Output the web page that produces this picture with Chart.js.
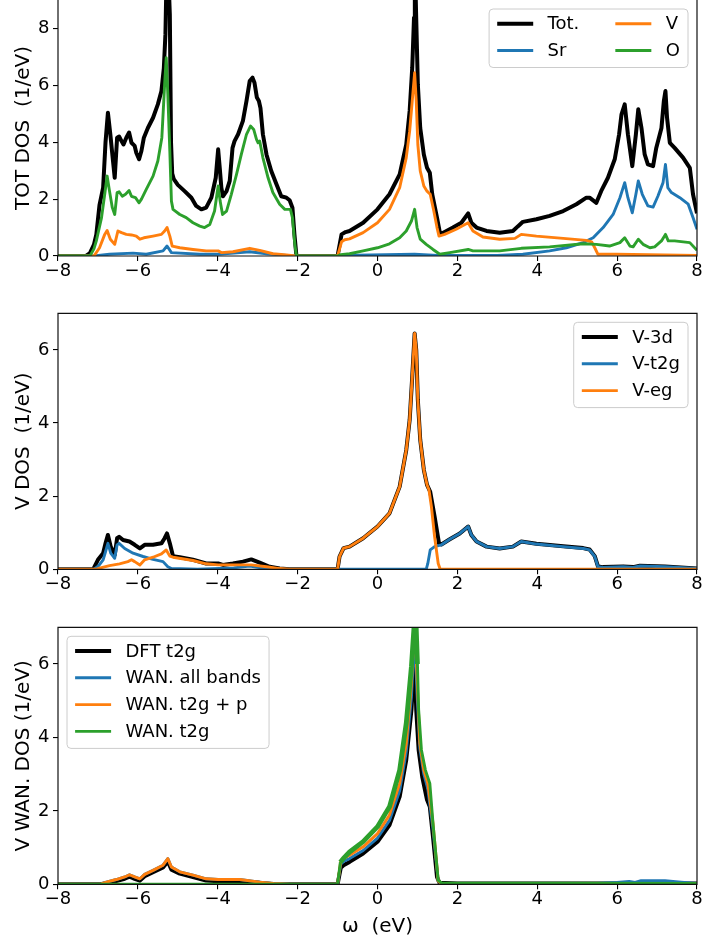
<!DOCTYPE html>
<html>
<head>
<meta charset="utf-8">
<script src="https://cdn.jsdelivr.net/npm/chart.js@4.4.1/dist/chart.umd.min.js"></script>
<style>
  html, body { margin: 0; padding: 0; background: #fff; }
  body { width: 704px; height: 939px; position: relative; overflow: hidden; }
  canvas { position: absolute; left: 0; }
</style>
</head>
<body>
<canvas id="totPanel" width="704" height="300" style="top:0;width:704px;height:300px"></canvas>
<canvas id="vPanel" width="704" height="300" style="top:300px;width:704px;height:300px"></canvas>
<canvas id="wanPanel" width="704" height="326" style="top:613px;width:704px;height:326px"></canvas>
<script>
// Tick positions
const energyTicks = [-8, -6, -4, -2, 0, 2, 4, 6, 8];
const totTicks = [0, 2, 4, 6, 8];
const vTicks = [0, 2, 4, 6];

// Each series: [energy (eV), DOS (1/eV)]
// --- total / site resolved DOS ---
const totDos = [[-8,0],[-7.3,0],[-7.2,0.1],[-7.1,0.4],[-7.04,0.76],[-6.96,1.8],[-6.87,2.4],[-6.81,4.0],[-6.75,5.04],[-6.69,4.28],[-6.62,3.3],[-6.58,2.75],[-6.52,4.16],[-6.47,4.2],[-6.41,4.04],[-6.36,3.92],[-6.29,4.16],[-6.22,4.34],[-6.16,3.98],[-6.08,3.87],[-6.04,3.63],[-5.97,3.4],[-5.91,3.7],[-5.85,4.16],[-5.75,4.5],[-5.62,4.86],[-5.5,5.33],[-5.41,5.8],[-5.35,6.6],[-5.31,7.8],[-5.28,10],[-5.24,10],[-5.2,8.5],[-5.17,4.0],[-5.14,2.9],[-5.1,2.7],[-5.0,2.5],[-4.83,2.28],[-4.66,2.05],[-4.54,1.76],[-4.41,1.64],[-4.29,1.7],[-4.16,2.05],[-4.05,2.75],[-3.99,3.75],[-3.95,3.1],[-3.91,2.4],[-3.87,2.1],[-3.78,2.28],[-3.7,2.64],[-3.63,3.8],[-3.58,4.04],[-3.49,4.28],[-3.37,4.75],[-3.28,5.45],[-3.2,6.15],[-3.13,6.27],[-3.08,6.09],[-3.02,5.57],[-2.97,5.45],[-2.93,5.2],[-2.87,4.28],[-2.78,3.57],[-2.66,2.99],[-2.53,2.52],[-2.41,2.1],[-2.28,2.05],[-2.2,1.96],[-2.13,1.7],[-2.08,0.76],[-2.03,0],[-1.0,0],[-0.9,0.76],[-0.8,0.84],[-0.7,0.88],[-0.36,1.17],[0,1.64],[0.3,2.17],[0.555,2.87],[0.72,3.92],[0.805,5.1],[0.87,6.62],[0.914,8.38],[0.935,10.5],[0.965,8.6],[1.01,6.03],[1.07,4.5],[1.16,3.57],[1.24,3.1],[1.31,2.93],[1.37,2.17],[1.49,1.35],[1.57,0.76],[1.68,0.84],[1.89,1.0],[2.1,1.17],[2.27,1.5],[2.35,1.17],[2.48,1.0],[2.73,0.88],[3.06,0.82],[3.39,0.88],[3.52,1.05],[3.64,1.2],[3.98,1.29],[4.31,1.41],[4.65,1.58],[4.98,1.82],[5.23,2.05],[5.31,2.05],[5.48,1.87],[5.6,2.28],[5.77,2.75],[5.94,3.4],[6.05,4.28],[6.11,4.98],[6.19,5.33],[6.27,4.28],[6.38,3.16],[6.47,4.28],[6.53,5.16],[6.61,4.5],[6.69,3.57],[6.77,3.22],[6.9,3.16],[6.98,3.8],[7.11,4.5],[7.17,5.45],[7.21,5.8],[7.25,4.86],[7.32,3.98],[7.44,3.8],[7.65,3.46],[7.82,3.1],[7.9,2.17],[8.0,1.5]];

const srDos = [[-8,0],[-7.1,0],[-6.71,0.06],[-6.12,0.1],[-5.79,0.06],[-5.37,0.18],[-5.27,0.35],[-5.16,0.12],[-4.45,0.06],[-3.99,0.06],[-3.2,0.15],[-2.78,0.08],[-2.28,0.02],[-2.05,0],[-1.0,0],[-0.9,0.02],[0.93,0.06],[1.5,0.02],[3.0,0.02],[3.64,0.06],[4.31,0.18],[4.73,0.29],[5.15,0.47],[5.4,0.64],[5.65,1.0],[5.9,1.46],[6.07,2.05],[6.19,2.58],[6.27,2.05],[6.38,1.52],[6.47,2.17],[6.53,2.64],[6.63,2.17],[6.77,1.76],[6.9,1.72],[7.02,2.1],[7.15,2.58],[7.21,3.22],[7.27,2.4],[7.36,2.23],[7.57,2.05],[7.78,1.82],[7.9,1.35],[8.0,0.94]];

const vDos = [[-8,0],[-7.1,0],[-6.96,0.29],[-6.83,0.76],[-6.77,0.9],[-6.69,0.59],[-6.58,0.41],[-6.5,0.88],[-6.41,0.82],[-6.29,0.76],[-6.16,0.74],[-6.04,0.7],[-5.95,0.59],[-5.85,0.64],[-5.62,0.7],[-5.41,0.76],[-5.33,0.88],[-5.27,1.0],[-5.2,0.7],[-5.14,0.35],[-4.95,0.29],[-4.62,0.23],[-4.29,0.18],[-3.99,0.18],[-3.91,0.12],[-3.62,0.15],[-3.2,0.27],[-2.95,0.2],[-2.62,0.08],[-2.28,0.04],[-2.05,0],[-1.0,0],[-0.9,0.5],[-0.82,0.57],[-0.7,0.6],[-0.36,0.82],[0,1.17],[0.3,1.64],[0.555,2.4],[0.72,3.46],[0.805,4.39],[0.87,5.45],[0.93,6.44],[0.97,5.45],[1.01,3.92],[1.07,2.99],[1.16,2.46],[1.24,2.28],[1.32,2.17],[1.41,1.58],[1.49,1.0],[1.54,0.7],[1.68,0.76],[1.97,0.94],[2.27,1.17],[2.39,0.88],[2.64,0.67],[3.06,0.59],[3.44,0.62],[3.6,0.76],[3.98,0.7],[4.65,0.62],[5.23,0.55],[5.36,0.5],[5.44,0.29],[5.52,0.06],[5.98,0.06],[8.0,0.02]];

const oDos = [[-8,0],[-7.2,0],[-7.1,0.25],[-7.04,0.53],[-6.91,1.35],[-6.83,2.17],[-6.77,2.81],[-6.71,2.28],[-6.64,1.7],[-6.58,1.46],[-6.52,2.23],[-6.47,2.26],[-6.39,2.1],[-6.31,2.17],[-6.22,2.3],[-6.16,2.1],[-6.06,2.05],[-5.97,1.87],[-5.91,2.0],[-5.79,2.34],[-5.62,2.81],[-5.5,3.34],[-5.4,4.16],[-5.33,6.03],[-5.29,6.97],[-5.25,5.68],[-5.2,3.69],[-5.16,1.93],[-5.12,1.64],[-4.95,1.46],[-4.79,1.35],[-4.62,1.17],[-4.45,1.05],[-4.33,1.0],[-4.2,1.11],[-4.08,1.58],[-3.99,2.46],[-3.94,1.93],[-3.88,1.46],[-3.78,1.58],[-3.66,2.17],[-3.53,2.87],[-3.41,3.57],[-3.28,4.28],[-3.18,4.57],[-3.1,4.45],[-3.03,4.1],[-2.99,3.98],[-2.95,4.04],[-2.87,3.46],[-2.74,2.75],[-2.62,2.23],[-2.45,1.82],[-2.32,1.64],[-2.18,1.64],[-2.13,1.35],[-2.07,0.41],[-2.03,0],[-1.0,0],[-0.92,0.05],[-0.7,0.08],[-0.36,0.18],[0,0.29],[0.3,0.43],[0.555,0.64],[0.72,0.88],[0.85,1.23],[0.93,1.64],[0.99,1.0],[1.07,0.59],[1.22,0.41],[1.39,0.23],[1.56,0.06],[1.81,0.12],[2.27,0.23],[2.39,0.18],[3.06,0.18],[3.6,0.27],[4.31,0.32],[5.15,0.43],[5.48,0.41],[5.81,0.35],[6.07,0.47],[6.19,0.64],[6.32,0.35],[6.4,0.32],[6.53,0.59],[6.65,0.41],[6.82,0.29],[6.94,0.32],[7.11,0.53],[7.21,0.76],[7.28,0.53],[7.44,0.53],[7.82,0.47],[8.0,0.2]];

// --- V d-orbital resolved DOS ---
const v3dDos = [[-8,0],[-7.12,0],[-7.0,0.26],[-6.87,0.44],[-6.81,0.71],[-6.75,0.94],[-6.68,0.62],[-6.58,0.39],[-6.52,0.85],[-6.47,0.89],[-6.37,0.8],[-6.21,0.76],[-6.08,0.67],[-5.95,0.57],[-5.83,0.67],[-5.62,0.67],[-5.41,0.71],[-5.33,0.85],[-5.27,0.98],[-5.2,0.71],[-5.12,0.36],[-4.95,0.33],[-4.62,0.26],[-4.29,0.16],[-3.99,0.16],[-3.87,0.12],[-3.62,0.16],[-3.37,0.21],[-3.16,0.27],[-2.95,0.18],[-2.7,0.07],[-2.45,0.02],[-2.2,0],[-1.0,0],[-0.95,0.35],[-0.85,0.58],[-0.7,0.62],[-0.36,0.85],[0,1.17],[0.3,1.53],[0.555,2.26],[0.72,3.26],[0.805,4.08],[0.87,5.27],[0.93,6.45],[0.97,6.0],[1.01,4.63],[1.07,3.54],[1.16,2.72],[1.24,2.31],[1.32,2.12],[1.43,1.44],[1.54,0.71],[1.6,0.68],[1.81,0.82],[2.06,0.98],[2.27,1.17],[2.35,0.94],[2.48,0.76],[2.73,0.62],[3.06,0.57],[3.39,0.62],[3.6,0.76],[3.98,0.7],[4.65,0.63],[5.15,0.58],[5.31,0.54],[5.44,0.36],[5.52,0.08],[5.65,0.06],[6.15,0.08],[6.4,0.06],[6.57,0.1],[7.2,0.08],[8,0.02]];

const vt2gDos = [[-8,0],[-7.1,0],[-6.98,0.1],[-6.87,0.26],[-6.81,0.48],[-6.75,0.71],[-6.68,0.44],[-6.58,0.3],[-6.52,0.67],[-6.47,0.71],[-6.33,0.57],[-6.12,0.44],[-5.87,0.35],[-5.62,0.27],[-5.37,0.21],[-5.25,0.07],[-5.16,0.02],[-4.5,0],[-3.6,0.04],[-3.2,0.09],[-2.8,0.02],[-2.5,0],[1.22,0],[1.26,0.16],[1.32,0.53],[1.43,0.62],[1.6,0.67],[1.81,0.82],[2.06,0.98],[2.27,1.17],[2.35,0.94],[2.48,0.76],[2.73,0.62],[3.06,0.57],[3.39,0.62],[3.6,0.76],[3.98,0.69],[4.65,0.62],[5.15,0.57],[5.31,0.53],[5.44,0.35],[5.52,0.07],[5.65,0.05],[6.15,0.07],[6.4,0.05],[6.57,0.09],[7.2,0.07],[8,0.02]];

const vegDos = [[-8,0],[-7.05,0],[-6.96,0.03],[-6.71,0.1],[-6.46,0.15],[-6.25,0.21],[-6.16,0.26],[-6.08,0.21],[-5.95,0.12],[-5.83,0.26],[-5.62,0.33],[-5.41,0.42],[-5.29,0.53],[-5.2,0.36],[-5.12,0.33],[-4.62,0.24],[-4.29,0.15],[-3.99,0.12],[-3.6,0.12],[-3.16,0.12],[-2.78,0.07],[-2.45,0.02],[-2.2,0],[-1.0,0],[-0.95,0.35],[-0.85,0.58],[-0.7,0.62],[-0.36,0.85],[0,1.17],[0.3,1.53],[0.555,2.26],[0.72,3.26],[0.805,4.08],[0.87,5.27],[0.93,6.45],[0.97,6.0],[1.01,4.63],[1.07,3.54],[1.16,2.72],[1.24,2.31],[1.29,2.17],[1.35,1.71],[1.43,0.89],[1.52,0.16],[1.57,0],[8,0]];

// --- V Wannier projected DOS ---
const dftT2gDos = [[-8,0],[-6.95,0],[-6.79,0.03],[-6.54,0.09],[-6.33,0.15],[-6.21,0.21],[-6.08,0.15],[-5.95,0.1],[-5.83,0.22],[-5.62,0.33],[-5.37,0.46],[-5.25,0.62],[-5.16,0.4],[-4.95,0.29],[-4.62,0.2],[-4.29,0.1],[-3.99,0.08],[-3.45,0.09],[-2.95,0.04],[-2.6,0],[-1.0,0],[-0.92,0.45],[-0.85,0.52],[-0.7,0.61],[-0.36,0.84],[0,1.16],[0.3,1.61],[0.555,2.39],[0.72,3.39],[0.85,4.75],[0.93,6.2],[0.97,4.75],[1.03,3.66],[1.12,2.93],[1.24,2.3],[1.31,2.11],[1.39,1.29],[1.49,0.2],[1.55,0.04],[2,0.02],[8,0.02]];

const wanAllDos = [[-8,0],[-6.95,0],[-6.79,0.06],[-6.54,0.13],[-6.33,0.2],[-6.21,0.26],[-6.08,0.2],[-5.95,0.15],[-5.83,0.27],[-5.62,0.38],[-5.37,0.52],[-5.25,0.7],[-5.16,0.47],[-4.95,0.34],[-4.62,0.25],[-4.29,0.15],[-3.99,0.13],[-3.45,0.13],[-2.95,0.06],[-2.6,0.02],[-2.2,0],[-1.0,0],[-0.92,0.55],[-0.85,0.62],[-0.7,0.7],[-0.36,0.92],[0,1.26],[0.3,1.74],[0.555,2.55],[0.72,3.6],[0.85,5.1],[0.93,6.8],[0.99,5.2],[1.06,3.7],[1.16,3.0],[1.26,2.6],[1.39,1.5],[1.52,0.08],[1.6,0.02],[5.5,0.02],[6.0,0.05],[6.3,0.08],[6.45,0.05],[6.6,0.1],[7.2,0.1],[7.6,0.06],[8,0.02]];

const wanT2gPDos = [[-8,0],[-6.95,0],[-6.79,0.06],[-6.54,0.13],[-6.33,0.2],[-6.21,0.26],[-6.08,0.2],[-5.95,0.15],[-5.83,0.27],[-5.62,0.38],[-5.37,0.52],[-5.25,0.7],[-5.16,0.47],[-4.95,0.34],[-4.62,0.25],[-4.29,0.15],[-3.99,0.13],[-3.45,0.13],[-2.95,0.06],[-2.6,0.02],[-2.2,0],[-1.0,0],[-0.92,0.62],[-0.85,0.7],[-0.7,0.79],[-0.36,1.02],[0,1.38],[0.3,1.89],[0.555,2.75],[0.72,3.84],[0.85,5.48],[0.93,7.2],[0.99,5.66],[1.06,3.84],[1.16,3.11],[1.26,2.75],[1.39,1.66],[1.52,0.09],[1.6,0.02],[8,0.02]];

const wanT2gDos = [[-8,0],[-1.0,0],[-0.93,0.6],[-0.86,0.7],[-0.7,0.88],[-0.36,1.16],[0,1.57],[0.3,2.11],[0.555,3.11],[0.72,4.39],[0.85,5.94],[0.95,7.6],[1.0,6.0],[1.03,4.75],[1.1,3.66],[1.2,3.11],[1.31,2.75],[1.39,1.66],[1.52,0.11],[1.6,0.04],[8,0.02]];

const BLACK = '#000000', BLUE = '#1f77b4', ORANGE = '#ff7f0e', GREEN = '#2ca02c';
const FONT = '"DejaVu Sans", sans-serif';
Chart.defaults.font.family = FONT;
Chart.defaults.color = '#000';

// Axes frame (drawn over the curves) and a matplotlib-like legend box
const frameLegend = {
  id: 'frameLegend',
  afterDatasetsDraw(chart, args, opts) {
    const { ctx, chartArea: a } = chart;
    ctx.save();
    ctx.strokeStyle = '#111';
    ctx.lineWidth = 1.2;
    ctx.beginPath();
    if (opts.openTop) {
      ctx.moveTo(a.left, a.top); ctx.lineTo(a.left, a.bottom);
      ctx.lineTo(a.right, a.bottom); ctx.lineTo(a.right, a.top);
    } else {
      ctx.rect(a.left, a.top, a.right - a.left, a.bottom - a.top);
    }
    ctx.stroke();

    const em = 18;
    ctx.font = em + 'px ' + FONT;
    const ds = chart.data.datasets;
    const cols = opts.columns;
    const colW = cols.map(c => 2.8 * em + Math.max(...c.map(i => ctx.measureText(ds[i].label).width)));
    const padX = 0.45 * em, topPad = 14.7, botPad = 17, rowH = 26.8;
    const w = 2 * padX + colW.reduce((s, v) => s + v, 0) + 2 * em * (cols.length - 1);
    const rows = Math.max(...cols.map(c => c.length));
    const h = topPad + (rows - 1) * rowH + botPad;
    const bx = opts.loc === 'right' ? a.right - 0.5 * em - w : a.left + 0.5 * em;
    const by = a.top + 0.5 * em;
    ctx.beginPath();
    ctx.roundRect(bx, by, w, h, 4);
    ctx.fillStyle = 'rgba(255,255,255,0.8)';
    ctx.fill();
    ctx.strokeStyle = '#cccccc';
    ctx.lineWidth = 1;
    ctx.stroke();

    let x0 = bx + padX;
    cols.forEach((c, ci) => {
      c.forEach((i, r) => {
        const y = by + topPad + r * rowH;
        ctx.beginPath();
        ctx.moveTo(x0, y); ctx.lineTo(x0 + 2 * em, y);
        ctx.strokeStyle = ds[i].borderColor;
        ctx.lineWidth = ds[i].borderWidth;
        ctx.stroke();
        ctx.fillStyle = '#000';
        ctx.textBaseline = 'middle';
        ctx.textAlign = 'left';
        ctx.fillText(ds[i].label, x0 + 2.8 * em, y + 1);
      });
      x0 += colW[ci] + 2 * em;
    });
    ctx.restore();
  }
};

const tickFont = { family: FONT, size: 18, lineHeight: 1 };
const minus = v => String(v).replace('-', '\u2212');

function panel(id, cfg) {
  const n = cfg.series.length;
  return new Chart(document.getElementById(id), {
    type: 'line',
    data: {
      datasets: cfg.series.map((s, i) => ({
        label: s.label,
        data: s.points.map(([x, y]) => ({ x, y })),
        borderColor: s.color,
        borderWidth: s.width,
        segment: s.segment,
        order: n - i,
        pointRadius: 0,
        tension: 0,
        clip: 0,
        borderJoinStyle: 'round'
      }))
    },
    options: {
      responsive: false,
      animation: false,
      devicePixelRatio: 1,
      layout: { padding: { top: cfg.top, right: 7, left: 0, bottom: 0 } },
      plugins: {
        legend: { display: false },
        tooltip: { enabled: false },
        frameLegend: { columns: cfg.columns, loc: cfg.loc, openTop: cfg.openTop }
      },
      scales: {
        x: {
          type: 'linear', min: -8, max: 8,
          afterBuildTicks: s => { s.ticks = energyTicks.map(v => ({ value: v })); },
          afterFit: s => { s.height = cfg.xh; s.paddingLeft = 0; s.paddingRight = 0; },
          grid: { drawOnChartArea: false, drawTicks: true, tickLength: 5, color: '#000', lineWidth: 1.1 },
          border: { display: false },
          ticks: { font: tickFont, padding: 1, maxRotation: 0, autoSkip: false, callback: minus },
          title: { display: !!cfg.xTitle, text: cfg.xTitle || '', font: { family: FONT, size: 20, lineHeight: 1.2 }, padding: { top: 0, bottom: 0 } }
        },
        y: {
          type: 'linear', min: 0, max: cfg.ymax,
          afterBuildTicks: s => { s.ticks = cfg.yTicks.map(v => ({ value: v })); },
          afterFit: s => { s.width = 58; s.paddingTop = 0; s.paddingBottom = 0; },
          grid: { drawOnChartArea: false, drawTicks: true, tickLength: 5, color: '#000', lineWidth: 1.1 },
          border: { display: false },
          ticks: { font: tickFont, padding: 3.5, autoSkip: false, callback: minus },
          title: { display: true, text: cfg.yTitle, font: { family: FONT, size: 20, lineHeight: 1.2 }, padding: { top: 12, bottom: 0 } }
        }
      }
    },
    plugins: [frameLegend]
  });
}

panel('totPanel', {
  top: 0, xh: 44, ymax: 9, yTicks: totTicks, openTop: true,
  yTitle: 'TOT DOS  (1/eV)', loc: 'right', columns: [[0, 1], [2, 3]],
  series: [
    { label: 'Tot.', points: totDos, color: BLACK, width: 4 },
    { label: 'Sr', points: srDos, color: BLUE, width: 2.9 },
    { label: 'V', points: vDos, color: ORANGE, width: 2.9 },
    { label: 'O', points: oDos, color: GREEN, width: 2.9 }
  ]
});

panel('vPanel', {
  top: 13.3, xh: 30.7, ymax: 7, yTicks: vTicks,
  yTitle: 'V DOS  (1/eV)', loc: 'right', columns: [[0, 1, 2]],
  series: [
    { label: 'V-3d', points: v3dDos, color: BLACK, width: 4 },
    { label: 'V-t2g', points: vt2gDos, color: BLUE, width: 2.9 },
    { label: 'V-eg', points: vegDos, color: ORANGE, width: 2.9 }
  ]
});

// the Wannier t2g curve is very jagged around the peak, so it reads wider there
const jagged = ctx => (ctx.p0.parsed.x >= -0.95 && ctx.p1.parsed.x <= 1.0) ? 4.8 : undefined;

panel('wanPanel', {
  top: 14.3, xh: 54.7, ymax: 7, yTicks: vTicks,
  yTitle: 'V WAN. DOS (1/eV)', xTitle: '\u03c9  (eV)', loc: 'left', columns: [[0, 1, 2, 3]],
  series: [
    { label: 'DFT t2g', points: dftT2gDos, color: BLACK, width: 4 },
    { label: 'WAN. all bands', points: wanAllDos, color: BLUE, width: 2.9 },
    { label: 'WAN. t2g + p', points: wanT2gPDos, color: ORANGE, width: 2.9 },
    { label: 'WAN. t2g', points: wanT2gDos, color: GREEN, width: 2.9, segment: { borderWidth: jagged } }
  ]
});
</script>
</body>
</html>
